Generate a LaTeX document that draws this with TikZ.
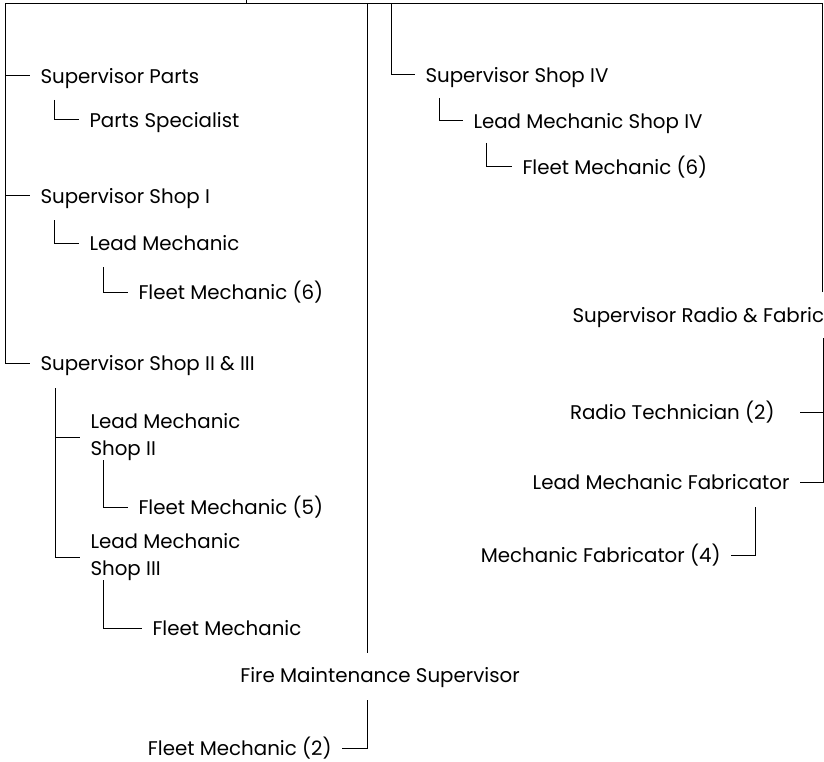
\documentclass[tikz,border=0pt]{standalone}
\usepackage{fontspec}
\setmainfont{Poppins}
\usepackage{tikz}
\tikzset{
  jobtwo/.style={anchor=west, inner xsep=10pt, inner ysep=0pt, align=left,
    font=\fontsize{19.8}{27}\selectfont},
  job/.style={jobtwo, text height=19pt, text depth=4pt},
  jobr/.style={job, anchor=east}
}

\begin{document}
\begin{tikzpicture}[x=1pt,y=-1pt,line width=1pt]
        \useasboundingbox (0,0) rectangle (824,762);
        \clip (0,0) rectangle (824,762);
        \coordinate (tl) at (5,4);
        \coordinate (tr) at (822,4);
        \coordinate (mid) at (367,4);
        \coordinate (shopiv) at (391,4);
        \coordinate (rb) at (823,338);
        % left column
        \node[job] (sp) at (30,76) {Supervisor Parts};
        \node[job] (ps) at (79,120) {Parts Specialist};
        \node[job] (s1) at (30,196) {Supervisor Shop I};
        \node[job] (lm1) at (79,243) {Lead Mechanic};
        \node[job] (fm1) at (128,292) {Fleet Mechanic (6)};
        \node[job] (s23) at (30,363) {Supervisor Shop II \& III};
        \node[jobtwo] (lm2) at (80,437) {Lead Mechanic\\Shop II};
        \node[job] (fm5) at (128,507) {Fleet Mechanic (5)};
        \node[jobtwo] (lm3) at (80,557) {Lead Mechanic\\Shop III};
        \node[job] (fm3) at (142,628) {Fleet Mechanic};
        % right column
        \node[job] (s4) at (415,75) {Supervisor Shop IV};
        \node[job] (lm4) at (463,121) {Lead Mechanic Shop IV};
        \node[job] (fm4) at (512,167) {Fleet Mechanic (6)};
        \node[job] (srf) at (562,315) {Supervisor Radio \& Fabrication};
        \node[jobr] (rt) at (785,412) {Radio Technician (2)};
        \node[jobr] (lmf) at (800,482) {Lead Mechanic Fabricator};
        \node[jobr] (mf) at (731,555) {Mechanic Fabricator (4)};
        % fire
        \node (fms) at (380,675) [job, anchor=center, inner xsep=0pt] {Fire Maintenance Supervisor};
        \node[jobr] (fm2) at (342,748) {Fleet Mechanic (2)};

        \draw (246,0)--(246,4);
        \draw (822,292)--(tr)--(tl) |- (s23.west);
        \draw (sp.west -| tl)--(sp.west);
        \draw (s1.west -| tl)--(s1.west);
        \draw (sp.west) ++(24,24) |- (ps.west);
        \draw (s1.west) ++(24,24) |- (lm1.west);
        \draw (lm1.west) ++(24,24) |- (fm1.west);
        \coordinate (s23b) at ([shift={(25,25)}]s23.west);
        \draw (s23b) |- (lm3.west);
        \draw (s23b |- lm2.west)--(lm2.west);
        \draw (lm2.west) ++(23,23) |- (fm5.west);
        \draw (lm3.west) ++(23,23) |- (fm3.west);
        \draw (mid)--(367,653);
        \draw (shopiv) |- (s4.west);
        \draw (s4.west) ++(24,23) |- (lm4.west);
        \draw (lm4.west) ++(23,22) |- (fm4.west);
        \draw (rb) |- (lmf.east);
        \draw (rt.east) ++(15,0)--(rt.east -| rb);
        \draw (lmf.east) ++(-45,25) |- (mf.east);
        \draw (fms.center) ++(-13,25) |- (fm2.east);
    \end{tikzpicture}
\end{document}
